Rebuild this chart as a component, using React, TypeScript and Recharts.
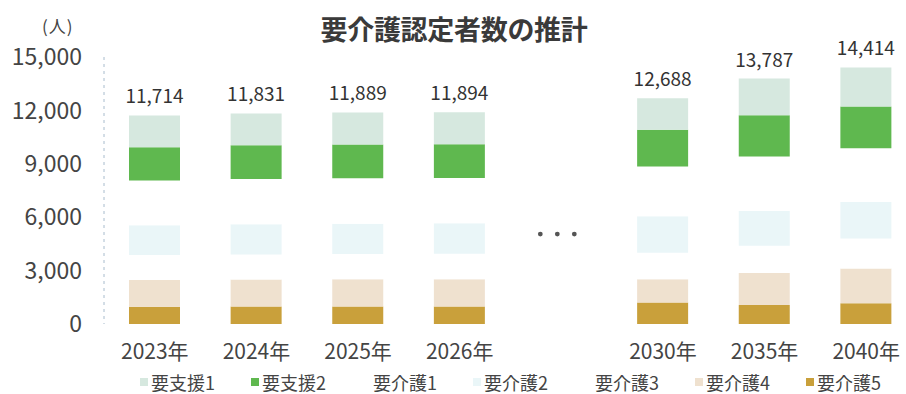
import React from 'react';
import { BarChart, Bar, XAxis, YAxis, Legend, LabelList, ReferenceDot } from 'recharts';

// categories (blank slot = the "..." gap between 2026 and 2030)
const years = ['2023年', '2024年', '2025年', '2026年', ' ', '2030年', '2035年', '2040年'];
const totals = [11714, 11831, 11889, 11894, null, 12688, 13787, 14414];

// values per care level
const shien1 = [1780, 1791, 1799, 1794, null, 1778, 2060, 2190];
const shien2 = [1870, 1890, 1900, 1895, null, 2060, 2315, 2350];
const kaigo1 = [2514, 2540, 2555, 2550, null, 2800, 3062, 3024];
const kaigo2 = [1680, 1700, 1705, 1710, null, 2050, 1960, 2050];
const kaigo3 = [1400, 1415, 1420, 1425, null, 1480, 1530, 1680];
const kaigo4 = [1500, 1515, 1525, 1530, null, 1310, 1795, 1960];
const kaigo5 = [970, 980, 985, 990, null, 1210, 1065, 1160];

const yTicks = [0, 3000, 6000, 9000, 12000, 15000];

const FONT = '"Noto Sans CJK JP", "Noto Sans", sans-serif';

// legend order, left to right
const series = [
  { key: 'shien1', name: '要支援1', color: '#d6e8df' },
  { key: 'shien2', name: '要支援2', color: '#5fb84f' },
  { key: 'kaigo1', name: '要介護1', color: '#ffffff' },
  { key: 'kaigo2', name: '要介護2', color: '#eaf6f8' },
  { key: 'kaigo3', name: '要介護3', color: '#ffffff' },
  { key: 'kaigo4', name: '要介護4', color: '#efe1cf' },
  { key: 'kaigo5', name: '要介護5', color: '#c9a03b' },
];

const data = years.map((y, i) => ({
  year: y,
  total: totals[i],
  shien1: shien1[i],
  shien2: shien2[i],
  kaigo1: kaigo1[i],
  kaigo2: kaigo2[i],
  kaigo3: kaigo3[i],
  kaigo4: kaigo4[i],
  kaigo5: kaigo5[i],
}));

// stacking goes bottom-up, so reverse
const stackOrder = [...series].reverse();

const fmt = (v: any) => (v == null ? '' : Number(v).toLocaleString('en-US'));

const Ellipsis = (props: any) => {
  const { cx, cy } = props;
  return (
    <g>
      {[-17, 0, 17].map((d) => (
        <circle key={d} cx={cx + d - 4} cy={cy} r={2.4} fill="#555" />
      ))}
    </g>
  );
};

const renderLegend = () => (
  <div style={{ display: 'flex', paddingLeft: 140, fontFamily: FONT, fontSize: 18, lineHeight: '20px', color: '#444' }}>
    {series.map((s) => (
      <div key={s.key} style={{ width: 112, display: 'flex', alignItems: 'center', whiteSpace: 'nowrap' }}>
        <span style={{ width: 8, height: 8, background: s.color, marginRight: 3, display: 'inline-block' }} />
        <span>{s.name}</span>
      </div>
    ))}
  </div>
);

export default function App() {
  return (
    <div style={{ position: 'absolute', left: 0, top: 0, width: 906, height: 394, overflow: 'hidden', background: '#fff' }}>
      <div style={{ position: 'absolute', left: 316, top: 14, width: 276, textAlign: 'center', fontFamily: FONT, fontSize: 27, lineHeight: '30px', fontWeight: 700, color: '#3a3a3a', letterSpacing: -0.3 }}>
        要介護認定者数の推計
      </div>
      <div style={{ position: 'absolute', left: 42, top: 17, fontFamily: FONT, fontSize: 17, lineHeight: '18px', color: '#444', letterSpacing: 1 }}>
        (人)
      </div>
      <BarChart
        width={917}
        height={394}
        data={data}
        margin={{ top: 57, right: 0, bottom: 30, left: 0 }}
        style={{ fontFamily: FONT }}
      >
        <XAxis
          dataKey="year"
          axisLine={false}
          tickLine={false}
          tickSize={0}
          tickMargin={20}
          height={40}
          interval={0}
          tick={{ fill: '#444', fontSize: 21 }}
        />
        <YAxis
          domain={[0, 15000]}
          ticks={yTicks}
          width={104}
          tickSize={0}
          tickMargin={22}
          tickLine={false}
          axisLine={{ stroke: '#a8bccd', strokeDasharray: '3 4' }}
          tickFormatter={fmt}
          tick={{ fill: '#444', fontSize: 23 }}
        />
        {stackOrder.map((s) => (
          <Bar key={s.key} dataKey={s.key} name={s.name} stackId="a" fill={s.color} barSize={51} isAnimationActive={false}>
            {s.key === 'shien1' && (
              <LabelList dataKey="total" position="top" offset={12} formatter={fmt} fill="#333" fontSize={19} />
            )}
          </Bar>
        ))}
        <ReferenceDot x=" " y={5050} r={0} shape={Ellipsis} />
        <Legend
          verticalAlign="middle"
          align="center"
          content={renderLegend}
          wrapperStyle={{ top: 372, left: 0, width: 917, height: 20 }}
        />
      </BarChart>
    </div>
  );
}
